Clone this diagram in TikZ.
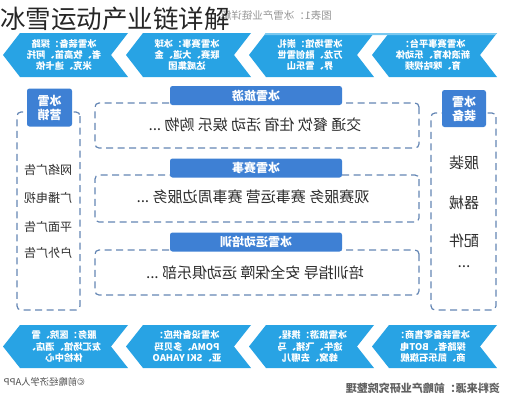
\documentclass[tikz,border=0pt]{standalone}
\usepackage{fontspec}
\setmainfont{Noto Sans CJK SC}
\definecolor{chev}{RGB}{40,163,228}
\definecolor{chevlight}{RGB}{120,200,240}
\definecolor{lab}{RGB}{62,128,212}
\definecolor{dashc}{RGB}{100,134,180}
\definecolor{txt}{RGB}{45,45,45}
\definecolor{wmc}{RGB}{150,150,150}
\begin{document}
\begin{tikzpicture}[x=1pt,y=-1pt,
  chevtext/.style={text=white,align=center,inner sep=0pt,font=\bfseries\fontsize{9.3}{11.2}\selectfont},
  dashbox/.style={draw=dashc,line width=1.2pt,dash pattern=on 7pt off 4.5pt,rounded corners=4pt},
  labbox/.style={fill=lab,rounded corners=2.5pt,text=white,inner sep=0pt,font=\bfseries\fontsize{12}{14}\selectfont,align=center},
  rowtext/.style={text=txt,inner sep=0pt,font=\fontsize{15}{18}\selectfont},
  sidetext/.style={text=txt,inner sep=0pt,font=\fontsize{12}{14}\selectfont},
  sidebig/.style={text=txt,inner sep=0pt,font=\fontsize{15}{18}\selectfont},
  wmtext/.style={text=wmc,inner sep=0pt,font=\fontsize{10.5}{12}\selectfont},
  srctext/.style={text=black!62,inner sep=0pt,font=\bfseries\fontsize{11}{13}\selectfont}]
\useasboundingbox (0,0) rectangle (509,400);
\fill[white] (0,0) rectangle (509,400);
\begin{scope}[xshift=509pt,xscale=-1,transform shape]
  % watermark title
  \node[wmtext,anchor=west] (wm) at (177,16) {图表1：冰雪产业链详解};
  % chevrons
  \foreach \j in {0,...,3}{
    \fill[chev] ({12+123*\j},33) -- ({120+123*\j},33) -- ({137+123*\j},55) -- ({120+123*\j},77) -- ({12+123*\j},77) -- ({29+123*\j},55) -- cycle;
    \fill[chev] ({12+123*\j},325) -- ({120+123*\j},325) -- ({137+123*\j},346.5) -- ({120+123*\j},368) -- ({12+123*\j},368) -- ({29+123*\j},346.5) -- cycle;
  }
  \fill[chevlight] (12,33) -- (243,33) -- (244.6,35) -- (13.6,35) -- cycle;
  \node[chevtext] (c1) at (76,55) {冰雪赛事平台：\\新浪体育、乐动体\\育、咪咕视频};
  \node[chevtext] (c2) at (199,55) {冰雪场馆：崇礼\\万龙、融创雪世\\界、雪乐山};
  \node[chevtext] (c3) at (322,55) {冰雪赛事：冰球\\联赛、大道、金\\达威集团};
  \node[chevtext] (c4) at (445,55) {冰雪装备：探路\\者、牧高笛、阿托\\米克、迪卡侬};
  \node[chevtext] (d1) at (76,346.5) {冰雪装备零售商：\\探路者、BOT电\\商、凯乐石旗舰};
  \node[chevtext] (d2) at (199,346.5) {冰雪旅游：携程、\\途牛、飞猪、马\\蜂窝、去哪儿};
  \node[chevtext] (d3) at (322,346.5) {冰雪设备供应：\\POMA、多贝玛\\亚、SKI YAHAO};
  \node[chevtext] (d4) at (445,346.5) {服务：医院、雪\\友汇场馆、酒店、\\体检中心};
  % center rows
  \draw[dashbox] (90,103) rectangle (414,148);
  \draw[dashbox] (90,175) rectangle (414,222);
  \draw[dashbox] (90,250) rectangle (414,295);
  \node[labbox,minimum width=172pt,minimum height=19pt] (l1) at (253,95.5) {冰雪旅游};
  \node[labbox,minimum width=172pt,minimum height=19pt] (l2) at (253,168) {冰雪赛事};
  \node[labbox,minimum width=172pt,minimum height=19pt] (l3) at (253,242) {冰雪运动培训};
  \node[rowtext] (r1) at (254,125) {交通 餐饮 住宿 活动 娱乐 购物 ...};
  \node[rowtext] (r2) at (256,197) {观赛服务 赛事运营 赛事周边服务 ...};
  \node[rowtext] (r3) at (254,273) {培训指导 安全保障 运动俱乐部 ...};
  % marketing column
  \draw[dashbox] (429,112) rectangle (492,310);
  \node[labbox,minimum width=45pt,minimum height=38pt] (mk) at (459.5,107.5) {冰雪\\营销};
  \node[sidetext] (m1) at (461,170) {网络广告};
  \node[sidetext] (m2) at (461,198) {广播电视};
  \node[sidetext] (m3) at (461,227) {平面广告};
  \node[sidetext] (m4) at (461,253) {户外广告};
  % equipment column
  \draw[dashbox] (13,113) rectangle (78,310);
  \node[labbox,minimum width=44pt,minimum height=37pt] (eq) at (45,108.5) {冰雪\\装备};
  \node[sidebig] (e1) at (45,163) {服装};
  \node[sidebig] (e2) at (45,203) {器械};
  \node[sidebig] (e3) at (45,241) {配件};
  \node[sidebig] (e4) at (45,267) {...};
  % sources
  \node[wmtext,anchor=west,font=\fontsize{9.3}{11}\selectfont,text=txt!85] (cp) at (424,382) {©前瞻经济学人APP};
  \node[srctext,anchor=west] (src) at (9,388) {资料来源：前瞻产业研究院整理};
\end{scope}
\node[anchor=west,inner sep=0pt,text=black!85,font=\fontsize{25.5}{28}\selectfont] (title) at (0,19) {冰雪运动产业链详解};
\end{tikzpicture}
\end{document}
